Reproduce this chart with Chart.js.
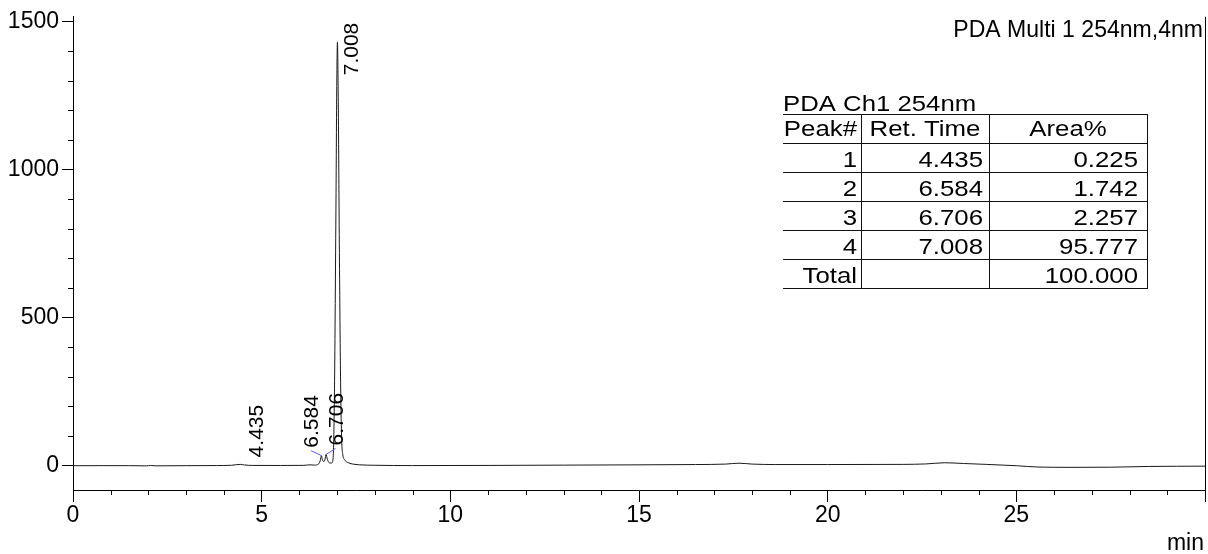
<!DOCTYPE html>
<html>
<head>
<meta charset="utf-8">
<script src="https://cdn.jsdelivr.net/npm/chart.js@4.4.1/dist/chart.umd.min.js"></script>
<style>
  html, body { margin: 0; padding: 0; background: #fff; }
  #wrap { width: 1208px; height: 554px; }
  canvas { display: block; }
</style>
</head>
<body>
<div id="wrap"><canvas id="chromatogram" width="1208" height="554"></canvas></div>
<script>
// Detector trace: retention time (min) and response (mAU)
const traceTime = [
  0.00, 0.80, 1.50, 1.95, 2.05, 2.20, 3.00, 3.80, 4.20, 4.33,
  4.435, 4.55, 4.75, 5.50, 6.10, 6.28, 6.40, 6.50, 6.55, 6.584,
  6.61, 6.65, 6.68, 6.706, 6.74, 6.79, 6.85, 6.89, 6.93, 6.97,
  6.99, 7.008, 7.03, 7.06, 7.09, 7.12, 7.15, 7.20, 7.28, 7.40,
  7.60, 8.00, 9.00, 11.0, 13.0, 15.0, 16.5, 17.3, 17.65, 18.0,
  18.6, 20.0, 22.0, 22.6, 23.1, 23.6, 24.2, 25.0, 25.6, 26.5,
  27.5, 28.5, 30.0
];
const traceSignal = [
  0.0, 0.3, 0.2, -0.5, 0.8, -0.4, 0.2, 0.6, 1.5, 3.5,
  4.5, 2.5, 1.0, 0.8, 1.2, 3.0, 2.0, 5.0, 16, 34,
  20, 14, 22, 38, 22, 10, 9, 20, 260, 900,
  1280, 1430, 1230, 720, 300, 90, 38, 20, 11, 6,
  3, 1.5, 0.5, 1.0, 2.0, 3.0, 4.0, 5.5, 8.5, 5.5,
  4.0, 4.0, 4.5, 6.0, 10, 7.5, 4.5, 0, -4.5, -5.5,
  -5, -2.5, -1.5
];

// Peak table
const peakNumbers = ['1', '2', '3', '4'];
const retentionTimes = [4.435, 6.584, 6.706, 7.008];
const areaPercents = [0.225, 1.742, 2.257, 95.777];
const areaTotal = 100.000;

// Axis ticks
const xMajorTicks = [0, 5, 10, 15, 20, 25, 30];
const xTickLabels = ['0', '5', '10', '15', '20', '25', ''];
const yMajorTicks = [0, 500, 1000, 1500];
const yTickLabels = ['0', '500', '1000', '1500'];

// Texts
const detectorTitle = 'PDA Multi 1 254nm,4nm';
const tableTitle = 'PDA Ch1 254nm';
const tableHeaders = ['Peak#', 'Ret. Time', 'Area%'];
const totalLabel = 'Total';
const xUnit = 'min';

// Layout and style settings
const FONT = '"Liberation Sans", Arial, Helvetica, sans-serif';
const X_RANGE = [0, 30];
const Y_RANGE = [-82, 1516];
const X_MINOR_STEP = 1;
const Y_MINOR_STEP = 100;
const peakLabelLayout = [
  { dx: 17, dy: -7, leader: false },
  { dx: -9, dy: -8, leader: true },
  { dx: 11, dy: -9, leader: true },
  { dx: 15, dy: 33, leader: false }
];
const tableBox = { left: 783, top: 114, rowH: 29, cols: [861, 989, 1147], size: 21.5, sx: 1.2 };

function drawText(ctx, str, px, py, size, sx, align) {
  ctx.save();
  ctx.translate(px, py);
  ctx.scale(sx, 1);
  ctx.font = size + 'px ' + FONT;
  ctx.textAlign = align;
  ctx.textBaseline = 'alphabetic';
  ctx.fillStyle = '#000';
  ctx.fillText(str, 0, 0);
  ctx.restore();
}

const decorations = {
  id: 'decorations',
  afterDraw(chart) {
    const { ctx, chartArea: a } = chart;
    const xs = chart.scales.x, ys = chart.scales.y;
    ctx.save();

    // minor ticks and right frame
    ctx.strokeStyle = '#000';
    ctx.lineWidth = 1;
    ctx.beginPath();
    for (let v = X_RANGE[0] + X_MINOR_STEP; v < X_RANGE[1]; v += X_MINOR_STEP) {
      if (xMajorTicks.includes(v)) continue;
      const px = Math.round(xs.getPixelForValue(v)) + 0.5;
      ctx.moveTo(px, a.bottom);
      ctx.lineTo(px, a.bottom + 5);
    }
    for (let v = Y_MINOR_STEP; v < yMajorTicks[yMajorTicks.length - 1]; v += Y_MINOR_STEP) {
      if (yMajorTicks.includes(v)) continue;
      const py = Math.round(ys.getPixelForValue(v)) + 0.5;
      ctx.moveTo(a.left - 5, py);
      ctx.lineTo(a.left, py);
    }
    const rx = Math.round(a.right) + 0.5;
    ctx.moveTo(rx, a.top);
    ctx.lineTo(rx, a.bottom);
    ctx.stroke();

    // peak retention-time labels
    retentionTimes.forEach((rt, i) => {
      const L = peakLabelLayout[i];
      const idx = traceTime.indexOf(rt);
      const ax = xs.getPixelForValue(rt);
      const ay = ys.getPixelForValue(traceSignal[idx]);
      const lx = ax + L.dx, ly = ay + L.dy;
      ctx.save();
      ctx.translate(lx, ly);
      ctx.rotate(-Math.PI / 2);
      ctx.font = '21px ' + FONT;
      ctx.fillStyle = '#000';
      ctx.textAlign = 'left';
      ctx.textBaseline = 'middle';
      ctx.fillText(rt.toFixed(3), 0, 0);
      ctx.restore();
      if (L.leader) {
        ctx.save();
        ctx.strokeStyle = '#5a5aff';
        ctx.lineWidth = 1;
        ctx.beginPath();
        ctx.moveTo(lx - 1.5, ly + 3);
        ctx.lineTo(ax, ay);
        ctx.stroke();
        ctx.restore();
      }
    });

    // detector title and unit
    drawText(ctx, detectorTitle, 1203, 37, 24, 0.96, 'right');
    drawText(ctx, xUnit, 1204, 550, 23, 1, 'right');

    // peak table
    const T = tableBox;
    const rows = peakNumbers.length + 2;
    ctx.strokeStyle = '#111';
    ctx.lineWidth = 1;
    ctx.beginPath();
    for (let r = 0; r <= rows; r++) {
      const yy = T.top + r * T.rowH + 0.5;
      ctx.moveTo(T.left, yy);
      ctx.lineTo(T.cols[2] + 1, yy);
    }
    T.cols.forEach(cx => {
      ctx.moveTo(cx + 0.5, T.top);
      ctx.lineTo(cx + 0.5, T.top + rows * T.rowH + 1);
    });
    ctx.stroke();

    drawText(ctx, tableTitle, T.left, T.top - 3, 22, 1.17, 'left');
    const hb = T.top + T.rowH - 7;
    drawText(ctx, tableHeaders[0], T.cols[0] - 4, hb, T.size, T.sx, 'right');
    drawText(ctx, tableHeaders[1], (T.cols[0] + T.cols[1]) / 2, hb, T.size, T.sx, 'center');
    drawText(ctx, tableHeaders[2], (T.cols[1] + T.cols[2]) / 2, hb, T.size, T.sx, 'center');
    peakNumbers.forEach((p, i) => {
      const b = T.top + (i + 2) * T.rowH - 5.5;
      drawText(ctx, p, T.cols[0] - 4, b, T.size, T.sx, 'right');
      drawText(ctx, retentionTimes[i].toFixed(3), T.cols[1] - 6, b, T.size, T.sx, 'right');
      drawText(ctx, areaPercents[i].toFixed(3), T.cols[2] - 9, b, T.size, T.sx, 'right');
    });
    const tb = T.top + rows * T.rowH - 5;
    drawText(ctx, totalLabel, T.cols[0] - 4, tb, T.size, T.sx, 'right');
    drawText(ctx, areaTotal.toFixed(3), T.cols[2] - 9, tb, T.size, T.sx, 'right');

    ctx.restore();
  }
};

const ctx = document.getElementById('chromatogram').getContext('2d');
new Chart(ctx, {
  type: 'line',
  data: {
    datasets: [{
      data: traceTime.map((t, i) => ({ x: t, y: traceSignal[i] })),
      borderColor: '#1a1a1a',
      borderWidth: 1,
      pointRadius: 0,
      fill: false,
      cubicInterpolationMode: 'monotone'
    }]
  },
  options: {
    responsive: false,
    animation: false,
    devicePixelRatio: 1,
    layout: { padding: { top: 16, right: 3, left: 0, bottom: 0 } },
    plugins: { legend: { display: false }, tooltip: { enabled: false }, title: { display: false } },
    scales: {
      x: {
        type: 'linear',
        min: X_RANGE[0],
        max: X_RANGE[1],
        afterBuildTicks: s => { s.ticks = xMajorTicks.map(v => ({ value: v })); },
        afterFit: s => { s.height = 64; },
        ticks: {
          autoSkip: false,
          maxRotation: 0,
          padding: 0,
          color: '#000',
          font: { family: FONT, size: 23, lineHeight: 1.2 },
          callback: v => { const i = xMajorTicks.indexOf(v); return i >= 0 ? xTickLabels[i] : ''; }
        },
        grid: { display: true, drawOnChartArea: false, drawTicks: true, tickLength: 12, color: '#000', lineWidth: 1 },
        border: { display: true, color: '#000', width: 1 }
      },
      y: {
        type: 'linear',
        min: Y_RANGE[0],
        max: Y_RANGE[1],
        afterBuildTicks: s => { s.ticks = yMajorTicks.map(v => ({ value: v })); },
        afterFit: s => { s.width = 73; },
        ticks: {
          padding: 3,
          color: '#000',
          font: { family: FONT, size: 23, lineHeight: 1.2 },
          callback: v => { const i = yMajorTicks.indexOf(v); return i >= 0 ? yTickLabels[i] : ''; }
        },
        grid: { display: true, drawOnChartArea: false, drawTicks: true, tickLength: 11, color: '#000', lineWidth: 1 },
        border: { display: true, color: '#000', width: 1 }
      }
    }
  },
  plugins: [decorations]
});
</script>
</body>
</html>
